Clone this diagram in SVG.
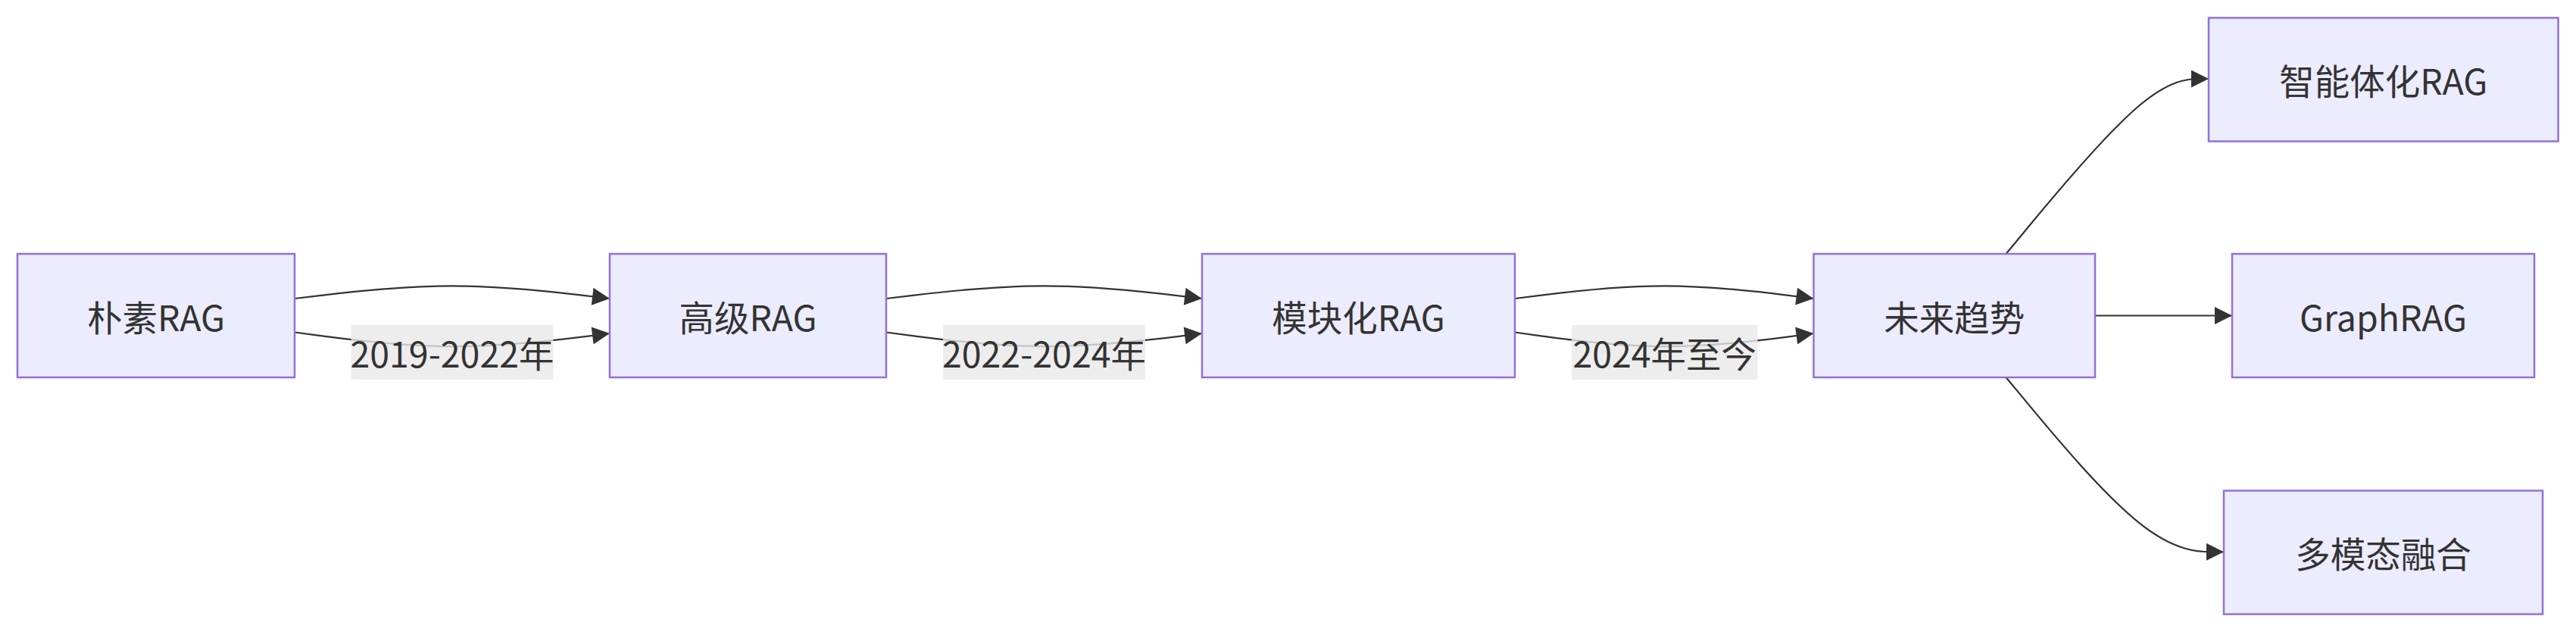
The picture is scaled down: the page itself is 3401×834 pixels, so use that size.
<svg xmlns="http://www.w3.org/2000/svg" width="3401" height="834" viewBox="0 0 3401 834">
<defs>
<style>
.node rect{fill:#ECECFF;stroke:#9370DB;stroke-width:2.5}
.node text{font-family:"Noto Sans CJK SC","Noto Sans",sans-serif;font-size:46.5px;fill:#333;text-anchor:middle;dominant-baseline:central}
.edge{fill:none;stroke:#333;stroke-width:2.2;marker-end:url(#arrow)}
.elabel rect{fill:#e8e8e8;fill-opacity:0.8}
.elabel text{font-family:"Noto Sans CJK SC","Noto Sans",sans-serif;font-size:46.5px;fill:#333;text-anchor:middle;dominant-baseline:central}
</style>
<marker id="arrow" viewBox="0 0 10 10" refX="10" refY="5" markerUnits="userSpaceOnUse" markerWidth="24" markerHeight="23" orient="auto">
<path d="M0,0 L10,5 L0,10 z" fill="#333"/>
</marker>
</defs>
<rect width="3401" height="834" fill="#fff"/>
<g id="connectors">
<path class="edge" d="M389,394 L423.67,389.83 C458.33,385.67 527.67,377.33 597,377.33 C666.33,377.33 735.67,385.67 770.33,389.83 L805,394"/>
<path class="edge" d="M389,438.5 L423.67,443.08 C458.33,447.67 527.67,456.83 597,457.08 C666.33,457.33 735.67,448.67 770.33,444.33 L805,440"/>
<path class="edge" d="M1170,394 L1204.75,389.83 C1239.5,385.67 1309,377.33 1378.5,377.33 C1448,377.33 1517.5,385.67 1552.25,389.83 L1587,394"/>
<path class="edge" d="M1170,438.5 L1204.75,443.08 C1239.5,447.67 1309,456.83 1378.5,457.08 C1448,457.33 1517.5,448.67 1552.25,444.33 L1587,440"/>
<path class="edge" d="M2000,394 L2032.88,389.83 C2065.75,385.67 2131.5,377.33 2197.25,377.33 C2263,377.33 2328.75,385.67 2361.63,389.83 L2394.5,394"/>
<path class="edge" d="M2000,438.5 L2032.88,443.08 C2065.75,447.67 2131.5,456.83 2197.25,457.08 C2263,457.33 2328.75,448.67 2361.63,444.33 L2394.5,440"/>
<path class="edge" d="M2648.5,335 L2680.4,296.5 C2712.3,258 2776.2,181 2820.75,142.5 C2865.3,104 2890.7,104 2903.3,104 L2916,104"/>
<path class="edge" d="M2766,416.5 L2947,416.5"/>
<path class="edge" d="M2648.5,498 L2680.4,536.4 C2712.3,574.8 2776.2,651.5 2824.1,689.9 C2872,728.3 2904,728.3 2920,728.3 L2936,728.3"/>
</g>
<g id="edge-labels">
<g class="elabel" id="label-1"><rect x="463.5" y="429" width="267" height="72"/><text x="597" y="464">2019-2022年</text></g>
<g class="elabel" id="label-2"><rect x="1245" y="429" width="267" height="72"/><text x="1378.5" y="464">2022-2024年</text></g>
<g class="elabel" id="label-3"><rect x="2075" y="429" width="245.5" height="72"/><text x="2197.75" y="464">2024年至今</text></g>
</g>
<g id="node-naive" class="node"><rect x="23" y="335" width="366" height="163"/><text x="206" y="416">朴素RAG</text></g>
<g id="node-advanced" class="node"><rect x="805" y="335" width="365" height="163"/><text x="987.5" y="416">高级RAG</text></g>
<g id="node-modular" class="node"><rect x="1587" y="335" width="413" height="163"/><text x="1793.5" y="416">模块化RAG</text></g>
<g id="node-future" class="node"><rect x="2394.5" y="335" width="371.5" height="163"/><text x="2580.25" y="416">未来趋势</text></g>
<g id="node-agentic" class="node"><rect x="2916" y="23.5" width="461.5" height="163"/><text x="3146.75" y="104.5">智能体化RAG</text></g>
<g id="node-graphrag" class="node"><rect x="2947" y="335" width="399" height="163"/><text x="3146.5" y="416">GraphRAG</text></g>
<g id="node-multimodal" class="node"><rect x="2936" y="647.5" width="421" height="163"/><text x="3146.5" y="728">多模态融合</text></g>
</svg>
